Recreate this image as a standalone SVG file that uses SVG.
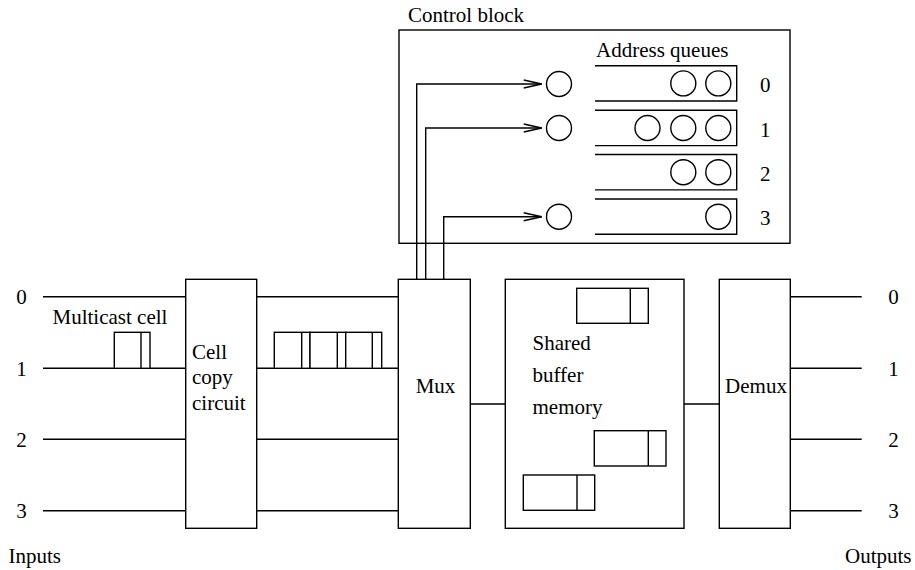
<svg xmlns="http://www.w3.org/2000/svg" width="915" height="570" viewBox="0 0 915 570">
  <style>
    .ln { fill: none; stroke: #000; stroke-width: 1.4; }
    .box { fill: #fff; stroke: #000; stroke-width: 1.4; }
    .t { font-family: "Liberation Serif", "Times New Roman", serif; font-size: 21px; fill: #000; }
    .c { text-anchor: middle; }
  </style>
  <defs>
    <marker id="open-arrow" markerUnits="userSpaceOnUse" markerWidth="22" markerHeight="12" refX="19" refY="6" orient="auto">
      <path d="M1,2 L19,6 L1,10" fill="none" stroke="#000" stroke-width="1.4"/>
    </marker>
  </defs>

  <rect width="915" height="570" fill="#fff"/>

  <!-- Control block with address queues -->
  <g id="control-block">
    <rect class="box" x="399" y="30" width="391" height="213.3"/>
    <text class="t" x="408" y="22">Control block</text>
    <text class="t" x="596" y="57">Address queues</text>
  </g>

  <g id="queue-0">
    <path class="ln" d="M595,65.7 H736.7 V101 H595"/>
    <circle class="ln" cx="683.3" cy="83.4" r="12.5"/>
    <circle class="ln" cx="718.3" cy="83.4" r="12.5"/>
    <text class="t" x="760" y="91.5">0</text>
  </g>
  <g id="queue-1">
    <path class="ln" d="M595,110.3 H736.7 V145.6 H595"/>
    <circle class="ln" cx="647.5" cy="128" r="12.5"/>
    <circle class="ln" cx="683.3" cy="128" r="12.5"/>
    <circle class="ln" cx="718.3" cy="128" r="12.5"/>
    <text class="t" x="760" y="136.5">1</text>
  </g>
  <g id="queue-2">
    <path class="ln" d="M595,154.5 H736.7 V189.9 H595"/>
    <circle class="ln" cx="683.3" cy="172.2" r="12.5"/>
    <circle class="ln" cx="718.3" cy="172.2" r="12.5"/>
    <text class="t" x="760" y="181">2</text>
  </g>
  <g id="queue-3">
    <path class="ln" d="M595,199 H736.7 V234.3 H595"/>
    <circle class="ln" cx="718.3" cy="216.7" r="12.5"/>
    <text class="t" x="760" y="225">3</text>
  </g>

  <g id="head-0"><circle class="ln" cx="559" cy="84" r="12.5"/></g>
  <g id="head-1"><circle class="ln" cx="559" cy="128" r="12.5"/></g>
  <g id="head-3"><circle class="ln" cx="559" cy="216.7" r="12.5"/></g>

  <!-- Switch fabric blocks -->
  <g id="cell-copy-circuit">
    <rect class="box" x="185.7" y="279.3" width="71" height="249"/>
    <text class="t" x="192" y="359">Cell</text>
    <text class="t" x="192" y="384">copy</text>
    <text class="t" x="192" y="409.5">circuit</text>
  </g>

  <g id="mux">
    <rect class="box" x="398.3" y="279.3" width="72" height="249"/>
    <text class="t c" x="435.5" y="393">Mux</text>
  </g>

  <g id="shared-buffer-memory">
    <rect class="box" x="505.3" y="279.3" width="178.7" height="249"/>
    <text class="t" x="532.5" y="350">Shared</text>
    <text class="t" x="532.5" y="382">buffer</text>
    <text class="t" x="532.5" y="414">memory</text>
    <rect class="box" x="576.7" y="288.3" width="71.6" height="35"/>
    <line class="ln" x1="630.3" y1="288.3" x2="630.3" y2="323.3"/>
    <rect class="box" x="594.3" y="430.7" width="71.7" height="35.3"/>
    <line class="ln" x1="648.3" y1="430.7" x2="648.3" y2="466"/>
    <rect class="box" x="523.3" y="475" width="71.4" height="35.3"/>
    <line class="ln" x1="577" y1="475" x2="577" y2="510.3"/>
  </g>

  <g id="demux">
    <rect class="box" x="719.3" y="279.3" width="71" height="249"/>
    <text class="t c" x="756" y="393">Demux</text>
  </g>

  <!-- Port labels -->
  <g id="inputs">
    <text class="t c" x="21.5" y="304">0</text>
    <text class="t c" x="21.5" y="375.5">1</text>
    <text class="t c" x="21.5" y="446.5">2</text>
    <text class="t c" x="21.5" y="518">3</text>
    <text class="t" x="8.5" y="563">Inputs</text>
  </g>
  <g id="outputs">
    <text class="t c" x="893.5" y="304">0</text>
    <text class="t c" x="893.5" y="375.5">1</text>
    <text class="t c" x="893.5" y="446.5">2</text>
    <text class="t c" x="893.5" y="518">3</text>
    <text class="t" x="845" y="563">Outputs</text>
  </g>

  <!-- Cells travelling on input line 1 -->
  <g id="multicast-cell">
    <text class="t" x="52.5" y="323.5">Multicast cell</text>
    <rect class="box" x="114.3" y="332.3" width="35.7" height="36"/>
    <line class="ln" x1="141" y1="332.3" x2="141" y2="368.3"/>
  </g>
  <g id="cell-copies">
    <rect class="box" x="274.3" y="332.3" width="35.7" height="36"/>
    <line class="ln" x1="301.7" y1="332.3" x2="301.7" y2="368.3"/>
    <rect class="box" x="310" y="332.3" width="35.7" height="36"/>
    <line class="ln" x1="337.3" y1="332.3" x2="337.3" y2="368.3"/>
    <rect class="box" x="345.7" y="332.3" width="36" height="36"/>
    <line class="ln" x1="372.3" y1="332.3" x2="372.3" y2="368.3"/>
  </g>

  <!-- Connectors -->
  <g id="connectors">
    <path class="ln" d="M43,296.7 H185.7 M43,368.3 H114.3 M150,368.3 H185.7 M43,439.3 H185.7 M43,510.7 H185.7"/>
    <path class="ln" d="M256.7,296.7 H398.3 M256.7,368.3 H274.3 M381.7,368.3 H398.3 M256.7,439.3 H398.3 M256.7,510.7 H398.3"/>
    <path class="ln" d="M470.3,404 H505.3 M684,404 H719.3"/>
    <path class="ln" d="M790.3,296.7 H861.7 M790.3,368.3 H861.7 M790.3,439.3 H861.7 M790.3,510.7 H861.7"/>
    <path class="ln" d="M416.7,279.3 V84 H541.7" marker-end="url(#open-arrow)"/>
    <path class="ln" d="M425.7,279.3 V128 H541.7" marker-end="url(#open-arrow)"/>
    <path class="ln" d="M443.7,279.3 V216.7 H541.7" marker-end="url(#open-arrow)"/>
  </g>
</svg>
